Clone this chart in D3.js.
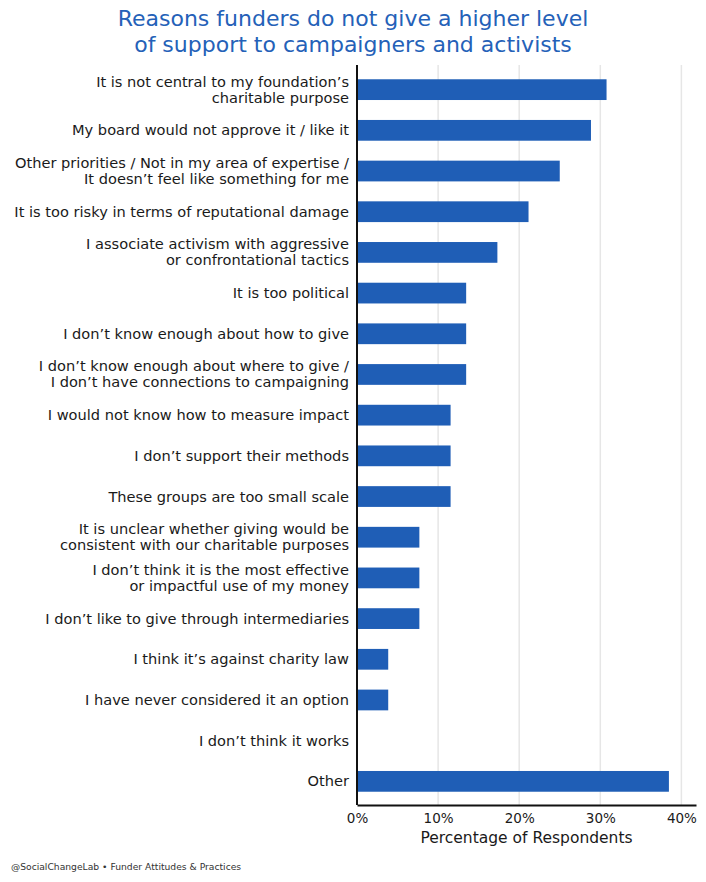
<!DOCTYPE html>
<html>
<head>
<meta charset="utf-8">
<script src="https://cdn.jsdelivr.net/npm/d3@7"></script>
<style>
  body { margin: 0; background: #fff; }
  text { font-family: "DejaVu Sans", sans-serif; }
</style>
</head>
<body>
<div id="main"></div>
<script>
const ctx = { w: 706, h: 882 };

// categories (each entry = lines of the label)
const reasons = [
    ["It is not central to my foundation’s", "charitable purpose"],
    ["My board would not approve it / like it"],
    ["Other priorities / Not in my area of expertise /", "It doesn’t feel like something for me"],
    ["It is too risky in terms of reputational damage"],
    ["I associate activism with aggressive", "or confrontational tactics"],
    ["It is too political"],
    ["I don’t know enough about how to give"],
    ["I don’t know enough about where to give /", "I don’t have connections to campaigning"],
    ["I would not know how to measure impact"],
    ["I don’t support their methods"],
    ["These groups are too small scale"],
    ["It is unclear whether giving would be", "consistent with our charitable purposes"],
    ["I don’t think it is the most effective", "or impactful use of my money"],
    ["I don’t like to give through intermediaries"],
    ["I think it’s against charity law"],
    ["I have never considered it an option"],
    ["I don’t think it works"],
    ["Other"]
];
// share of respondents (%)
const shares = [30.77, 28.85, 25.0, 21.15, 17.31, 13.46, 13.46, 13.46, 11.54, 11.54,
                11.54, 7.69, 7.69, 7.69, 3.85, 3.85, 0, 38.46];
const xTicks = [0, 10, 20, 30, 40];

const titleLines = ["Reasons funders do not give a higher level", "of support to campaigners and activists"];

function createViz() {
    const svg = d3.select("#main").append("svg")
        .attr("width", ctx.w)
        .attr("height", ctx.h);

    const plotTop = 65, plotBottom = 805, left = 357, right = 696;

    const x = d3.scaleLinear().domain([0, 41.8]).range([left, right]);
    const y = d3.scaleBand()
        .domain(d3.range(reasons.length))
        .range([69.3, 801.7])
        .paddingInner(0.49)
        .paddingOuter(0.245);

    // title
    svg.append("g").selectAll("text")
        .data(titleLines)
        .enter().append("text")
        .attr("x", 353)
        .attr("y", (d, i) => 26 + i * 26)
        .attr("text-anchor", "middle")
        .attr("fill", "#2461b8")
        .attr("font-size", 22)
        .text(d => d);

    // gridlines
    svg.append("g").selectAll("line")
        .data(xTicks.slice(1))
        .enter().append("line")
        .attr("x1", d => x(d)).attr("x2", d => x(d))
        .attr("y1", plotTop).attr("y2", plotBottom)
        .attr("stroke", "#e6e6e6")
        .attr("stroke-width", 1.5);

    // bars
    svg.append("g").selectAll("rect")
        .data(shares)
        .enter().append("rect")
        .attr("x", x(0))
        .attr("y", (d, i) => y(i))
        .attr("width", d => x(d) - x(0))
        .attr("height", y.bandwidth())
        .attr("fill", "#1f5eb6");

    // category labels
    const lab = svg.append("g").selectAll("text")
        .data(reasons)
        .enter().append("text")
        .attr("text-anchor", "end")
        .attr("fill", "#1a1a1a")
        .attr("font-size", 14.6);
    lab.each(function(lines, i) {
        const cy = y(i) + y.bandwidth() / 2;
        d3.select(this).selectAll("tspan")
            .data(lines)
            .enter().append("tspan")
            .attr("x", 349)
            .attr("y", (d, j) => cy + 5 + (j - (lines.length - 1) / 2) * 16)
            .text(d => d);
    });

    // axes
    const xAxis = d3.axisBottom(x)
        .tickValues(xTicks)
        .tickSize(0)
        .tickPadding(8)
        .tickFormat(d => d + "%");
    const gx = svg.append("g")
        .attr("transform", `translate(0,${plotBottom})`)
        .call(xAxis);
    gx.select(".domain").attr("stroke", "#111").attr("stroke-width", 2);
    gx.selectAll("text").attr("font-size", 13.5).attr("fill", "#1a1a1a")
        .attr("font-family", "DejaVu Sans, sans-serif");

    svg.append("line")
        .attr("x1", x(0)).attr("x2", x(0))
        .attr("y1", plotTop).attr("y2", plotBottom)
        .attr("stroke", "#111")
        .attr("stroke-width", 2);

    svg.append("text")
        .attr("x", (left + right) / 2)
        .attr("y", 843)
        .attr("text-anchor", "middle")
        .attr("fill", "#1a1a1a")
        .attr("font-size", 15.5)
        .text("Percentage of Respondents");

    svg.append("text")
        .attr("x", 11)
        .attr("y", 870)
        .attr("fill", "#333")
        .attr("font-size", 9.2)
        .text("@SocialChangeLab • Funder Attitudes & Practices");
}

createViz();
</script>
</body>
</html>
